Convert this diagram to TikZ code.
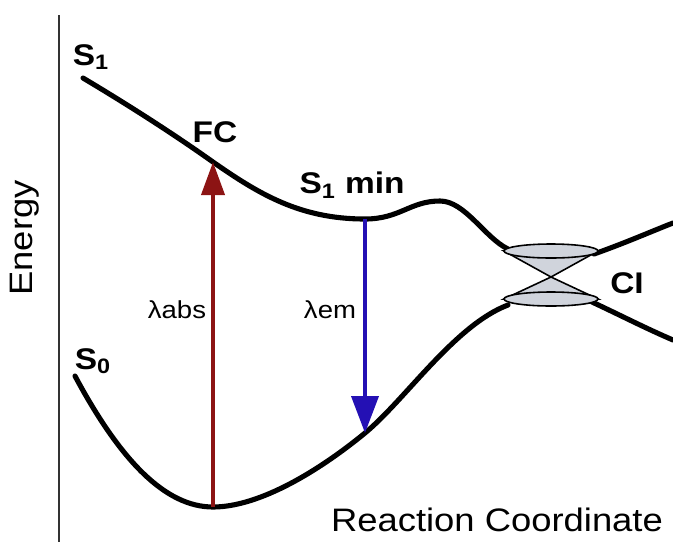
\documentclass[tikz,border=0pt]{standalone}
\usepackage{fontspec}
\setmainfont{Liberation Sans}[FakeStretch=1.12]
\usepackage{tikz}
\usetikzlibrary{arrows.meta}

\definecolor{absred}{RGB}{140,20,20}
\definecolor{emblue}{RGB}{36,16,180}
\definecolor{conegray}{RGB}{208,212,220}

\begin{document}
\begin{tikzpicture}[
    x=0.02cm, y=-0.02cm,
    pes/.style={line width=2.9pt, line cap=round},
    state/.style={font=\fontsize{17}{19}\selectfont\bfseries, inner sep=0pt},
    axislabel/.style={font=\fontsize{18.5}{20}\selectfont, inner sep=0pt},
    wavelabel/.style={font=\fontsize{14}{16}\selectfont, inner sep=0pt},
    absarrow/.style={line width=2.2pt, absred, -{Triangle[length=0.66cm, width=0.46cm]}},
    emarrow/.style={line width=2.2pt, emblue, -{Triangle[length=0.74cm, width=0.54cm]}},
    cone/.style={draw=black, line width=0.9pt, fill=conegray}
]
    \useasboundingbox (0,0) rectangle (673,542);

    % --- Axis ---
    \coordinate (axtop) at (59,15);
    \coordinate (axbot) at (59,542);
    \draw[line width=1.1pt, black!80] (axtop) -- (axbot);
    \node[axislabel, rotate=90] (energy) at (25,238) {Energy};
    \node[axislabel] (rc) at (497,520) {Reaction Coordinate};

    % --- Key points ---
    \coordinate (fc)    at (213,162);
    \coordinate (s1min) at (365,219);
    \coordinate (s0min) at (213,507);
    \coordinate (s0em)  at (365,433);
    \coordinate (ci)    at (551,277);

    % --- S1 surface ---
    \draw[pes] (83,78) .. controls (130,106) and (175,135) .. (fc)
        .. controls (259,194) and (300,219) .. (s1min)
        .. controls (400,219) and (410,201) .. (440,201)
        .. controls (465,201) and (485,238) .. (508,249);
    \draw[pes] (594,254) .. controls (625,243) and (650,232) .. (673,223);

    % --- S0 surface ---
    \draw[pes] (75,376) .. controls (120,460) and (165,507) .. (s0min)
        .. controls (260,507) and (320,470) .. (s0em)
        .. controls (405,400) and (455,325) .. (508,305);
    \draw[pes] (592,302) .. controls (620,315) and (645,328) .. (673,340);

    % --- Conical intersection ---
    \draw[cone] (504,251) -- (ci) -- (598,251) -- cycle;
    \draw[cone] (504,299) -- (ci) -- (598,299) -- cycle;
    \draw[cone] (551,251) ellipse [x radius=47, y radius=7];
    \draw[cone] (551,299) ellipse [x radius=47, y radius=7];

    % --- Transitions ---
    \draw[absarrow] (s0min) -- (fc);
    \draw[emarrow]  (s1min) -- (s0em);

    % --- Labels ---
    \node[state] (s1lab)  at (91,57)   {S\textsubscript{1}};
    \node[state] (fclab)  at (215,132) {FC};
    \node[state] (minlab) at (352,185) {S\textsubscript{1} min};
    \node[state] (s0lab)  at (93,361)  {S\textsubscript{0}};
    \node[state] (cilab)  at (627,283) {CI};
    \node[wavelabel] (abs) at (177,310) {λabs};
    \node[wavelabel] (em)  at (330,310) {λem};
\end{tikzpicture}
\end{document}
